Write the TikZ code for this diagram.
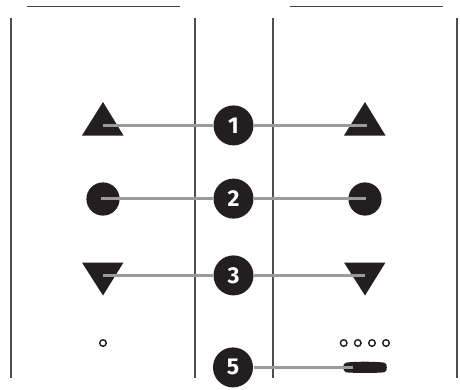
\documentclass[tikz,border=0pt]{standalone}
\usepackage{fontspec}
\setmainfont{Fira Sans}
\definecolor{ink}{HTML}{231F20}
\definecolor{rule}{HTML}{4D4D4F}
\definecolor{lead}{HTML}{9A9B9E}
\tikzset{
  x=1pt,y=-1pt,
  rulev/.style={draw=rule,line width=1.4pt},
  ruleh/.style={draw=ink!85,line width=1.3pt},
  leader/.style={draw=lead,line width=2.6pt},
  shapefill/.style={fill=ink,draw=none},
  badge/.style={circle,fill=ink,draw=none,minimum size=40pt,inner sep=0pt,outer sep=0.5pt,text=white,font=\fontsize{23}{23}\selectfont\fontseries{sb}\selectfont},
  dotring/.style={circle,draw=ink,line width=1.4pt,fill=white,minimum size=6.6pt,inner sep=0pt},
}
\begin{document}
\begin{tikzpicture}
\useasboundingbox (0,0) rectangle (460,389);
% rules
\draw[ruleh] (27,6.7) -- (180,6.7);
\draw[ruleh] (289.5,6.7) -- (442.5,6.7);
\draw[rulev] (11,17.5) -- (11,378);
\draw[rulev] (195,17.5) -- (195,378);
\draw[rulev] (273,17.5) -- (273,378);
\draw[rulev] (457,17.5) -- (457,378);
% shapes
\fill[shapefill] (103,102) -- (123.5,135.5) -- (82,135.5) -- cycle;
\fill[shapefill] (365,102) -- (385.5,135.5) -- (344,135.5) -- cycle;
\fill[shapefill] (103,199) circle (16.6);
\fill[shapefill] (365,199) circle (16.6);
\fill[shapefill] (82,262.5) -- (123.5,262.5) -- (103,295.5) -- cycle;
\fill[shapefill] (344,262.5) -- (385.5,262.5) -- (365,295.5) -- cycle;
\node[dotring] (d0) at (103,343) {};
\node[dotring] (d1) at (343.7,343) {};
\node[dotring] (d2) at (357.8,343) {};
\node[dotring] (d3) at (372,343) {};
\node[dotring] (d4) at (386,343) {};
\fill[shapefill] (346,362.6) .. controls (355,361.4) and (375,361.4) .. (384,362.6)
  .. controls (386.5,363) and (386.8,365) .. (386.8,367.4)
  .. controls (386.8,370) and (386.5,372) .. (384,372.3)
  .. controls (375,373.2) and (355,373.2) .. (346,372.3)
  .. controls (344,371.5) and (343,369) .. (343,367.4)
  .. controls (343,365.5) and (344,363.2) .. (346,362.6) -- cycle;
% anchors
\coordinate (a1l) at (103,125.4); \coordinate (a1r) at (367,125.4);
\coordinate (a2l) at (101,198.6); \coordinate (a2r) at (366,198.6);
\coordinate (a3l) at (103,275.4); \coordinate (a3r) at (365,275.4);
\coordinate (a5r) at (353,367.4);
% badges
\node[badge] (b1) at (233.5,125.4) {1};
\node[badge] (b2) at (233.5,198.6) {2};
\node[badge] (b3) at (233.5,275.4) {3};
\node[badge] (b5) at (233,367.4) {5};
% leaders
\draw[leader] (a1l) -- (b1);
\draw[leader] (b1) -- (a1r);
\draw[leader] (a2l) -- (b2);
\draw[leader] (b2) -- (a2r);
\draw[leader] (a3l) -- (b3);
\draw[leader] (b3) -- (a3r);
\draw[leader] (b5) -- (a5r);
\end{tikzpicture}
\end{document}
